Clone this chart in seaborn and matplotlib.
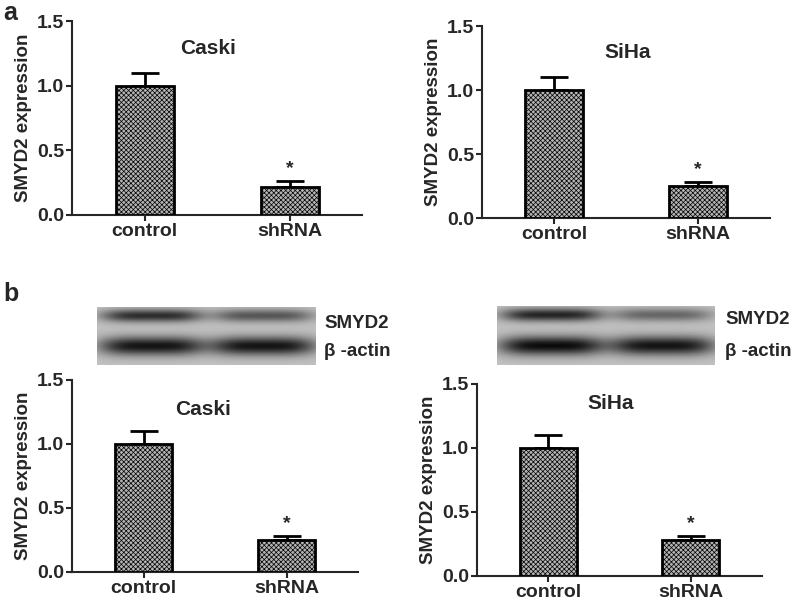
import matplotlib
matplotlib.use('Agg')
import matplotlib.pyplot as plt
import numpy as np
import seaborn as sns

# Data
groups = ['control', 'shRNA']
caski_a = [1.00, 0.22]
caski_a_err = [0.10, 0.04]
siha_a = [1.00, 0.25]
siha_a_err = [0.10, 0.03]
caski_b = [1.00, 0.25]
caski_b_err = [0.10, 0.03]
siha_b = [1.00, 0.28]
siha_b_err = [0.10, 0.03]

# Western blot band strengths (lane: control, shRNA)
caski_smyd2_band = [0.90, 0.65]
caski_actin_band = [1.00, 1.00]
siha_smyd2_band = [0.95, 0.55]
siha_actin_band = [1.05, 1.00]
blot_labels = ['SMYD2', 'β -actin']

sns.set_style('ticks')
plt.rcParams['font.family'] = ['Liberation Sans', 'DejaVu Sans']
plt.rcParams['font.weight'] = 'bold'
plt.rcParams['axes.labelweight'] = 'bold'
plt.rcParams['hatch.linewidth'] = 0.5

W, H = 794, 607
fig = plt.figure(figsize=(W / 100, H / 100), dpi=100)


def px_axes(x0, y0, x1, y1):
    return fig.add_axes([x0 / W, 1 - y1 / H, (x1 - x0) / W, (y1 - y0) / H])


def draw_bars(ax, values, errs, title, title_pos):
    sns.barplot(x=groups, y=values, ax=ax, color='#b4b4b4', edgecolor='black',
                linewidth=2, width=0.4, errorbar=None, saturation=1)
    for p in ax.patches:
        p.set_hatch('xxxxxxx')
        p.set_zorder(3)
    ax.errorbar(range(len(values)), values, yerr=[[0] * len(errs), errs], fmt='none',
                ecolor='black', elinewidth=2, capsize=10, capthick=2, zorder=2)
    ax.text(1, values[1] + errs[1] + 0.035, '*', ha='center', va='bottom', fontsize=14)
    ax.text(title_pos[0], title_pos[1], title, ha='center', va='center', fontsize=15)
    ax.set_xlim(-0.5, 1.5)
    ax.set_ylim(0, 1.5)
    ax.set_yticks([0, 0.5, 1.0, 1.5])
    ax.set_yticklabels(['0.0', '0.5', '1.0', '1.5'])
    ax.set_ylabel('SMYD2 expression', fontsize=13.5, labelpad=4, fontweight='bold')
    ax.tick_params(axis='both', direction='out', length=4.5, width=1.5, labelsize=14, pad=1)
    for s in ['top', 'right']:
        ax.spines[s].set_visible(False)
    for s in ['left', 'bottom']:
        ax.spines[s].set_linewidth(1.5)


def draw_blot(ax, smyd2, actin):
    xs = np.linspace(0, 1, 300)
    ys = np.linspace(0, 1, 80)
    X, Y = np.meshgrid(xs, ys)
    img = np.full(X.shape, 0.76)
    lane_centers = [0.25, 0.76]
    for lc, s_val, a_val in zip(lane_centers, smyd2, actin):
        img -= s_val * 0.65 * np.exp(-((X - lc) / 0.23) ** 4 - ((Y - 0.16) / 0.11) ** 2)
        img -= a_val * 0.68 * np.exp(-((X - lc) / 0.24) ** 4 - ((Y - 0.68) / 0.16) ** 2)
    ax.imshow(np.clip(img, 0, 1), cmap='gray', vmin=0, vmax=1, aspect='auto',
              extent=[0, 1, 1, 0])
    ax.set_xticks([])
    ax.set_yticks([])
    for s in ax.spines.values():
        s.set_visible(False)


ax1 = px_axes(72, 21, 362, 215)
draw_bars(ax1, caski_a, caski_a_err, 'Caski', (0.44, 1.29))
ax2 = px_axes(482, 26, 770, 218)
draw_bars(ax2, siha_a, siha_a_err, 'SiHa', (0.51, 1.29))
ax3 = px_axes(72, 380, 358, 572)
draw_bars(ax3, caski_b, caski_b_err, 'Caski', (0.42, 1.27))
ax4 = px_axes(477, 384, 762, 576)
draw_bars(ax4, siha_b, siha_b_err, 'SiHa', (0.44, 1.35))

bl1 = px_axes(97, 307, 316, 365)
draw_blot(bl1, caski_smyd2_band, caski_actin_band)
bl2 = px_axes(497, 306, 715, 365)
draw_blot(bl2, siha_smyd2_band, siha_actin_band)

fig.text(324 / W, 1 - 324 / H, blot_labels[0], ha='left', va='center', fontsize=13.5)
fig.text(324 / W, 1 - 351 / H, blot_labels[1], ha='left', va='center', fontsize=13.5)
fig.text(725 / W, 1 - 320 / H, blot_labels[0], ha='left', va='center', fontsize=13.5)
fig.text(725 / W, 1 - 352 / H, blot_labels[1], ha='left', va='center', fontsize=13.5)

fig.text(3 / W, 1 - 13 / H, 'a', ha='left', va='center', fontsize=18)
fig.text(3 / W, 1 - 294 / H, 'b', ha='left', va='center', fontsize=18)

fig.savefig('out.png', dpi=100)
